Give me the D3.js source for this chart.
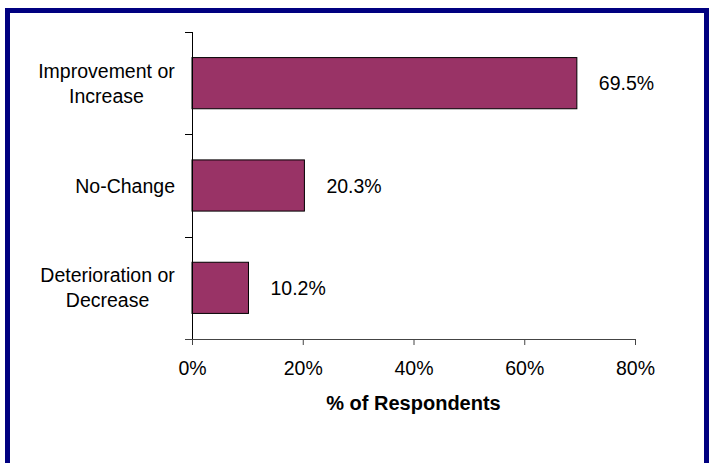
<!DOCTYPE html>
<html><head><meta charset="utf-8">
<script src="https://cdn.jsdelivr.net/npm/d3@7"></script>
<style>body{margin:0;background:#fff}svg{display:block}text{font-family:"Liberation Sans",Arial,sans-serif}</style>
</head><body>
<svg id="c" width="712" height="463"></svg>
<script>
const categories = [["Improvement or","Increase"],["No-Change"],["Deterioration or","Decrease"]];
const values = [69.5, 20.3, 10.2];
const valueLabels = ["69.5%","20.3%","10.2%"];
const xTicks = [0,20,40,60,80];
const xTitle = "% of Respondents";

const svg = d3.select("#c");
svg.append("rect").attr("x",7.5).attr("y",10.5).attr("width",699).attr("height",470)
  .attr("fill","#fff").attr("stroke","#000080").attr("stroke-width",5);

const x0=192,x1=635,yTop=32,yBot=339;
const x = d3.scaleLinear().domain([0,80]).range([x0,x1]);
const y = d3.scaleBand().domain(d3.range(categories.length)).range([yTop,yBot]).paddingInner(0.5).paddingOuter(0.25);
const fs = 19.5;

// bars
svg.selectAll("rect.bar").data(values).enter().append("rect")
  .attr("x",x(0)).attr("y",(d,i)=>y(i)).attr("width",d=>x(d)-x(0)).attr("height",y.bandwidth())
  .attr("fill","#993366").attr("stroke","#000").attr("stroke-width",1);

// x axis
const xa = svg.append("g").attr("transform",`translate(0,${yBot})`)
  .call(d3.axisBottom(x).tickValues(xTicks).tickSize(6).tickSizeOuter(0).tickPadding(16).tickFormat(d=>d+"%"));
xa.select(".domain").remove();
xa.append("line").attr("x1",x0-7).attr("x2",x1).attr("y1",0.5).attr("y2",0.5).attr("stroke","#444");
xa.selectAll(".tick line").attr("stroke","#444");
xa.selectAll("text").attr("font-size",fs).attr("fill","#000").attr("font-family","Liberation Sans, Arial, sans-serif");

// y axis
const step = (yBot-yTop)/categories.length;
const g = svg.append("g");
g.append("line").attr("x1",x0+0.5).attr("x2",x0+0.5).attr("y1",yTop).attr("y2",yBot).attr("stroke","#000");
d3.range(categories.length).forEach(i=>{
  const yy = Math.round(yTop+i*step)+0.5;
  g.append("line").attr("x1",x0-7).attr("x2",x0).attr("y1",yy).attr("y2",yy).attr("stroke","#000");
});

// category labels: block right aligned, lines centered
categories.forEach((lines,i)=>{
  const cy = y(i)+y.bandwidth()/2;
  const t = svg.append("text").attr("font-size",fs).attr("text-anchor","middle");
  const n = lines.length;
  lines.forEach((ln,j)=>{
    t.append("tspan").attr("x",0).attr("y",cy+(j-(n-1)/2)*25+7).text(ln);
  });
  const w = t.node().getBBox().width;
  t.selectAll("tspan").attr("x",175-w/2);
});

// value labels
svg.selectAll("text.val").data(values).enter().append("text")
  .attr("x",d=>x(d)+22).attr("y",(d,i)=>y(i)+y.bandwidth()/2+7)
  .attr("font-size",fs).text((d,i)=>valueLabels[i]);

// x title
svg.append("text").attr("x",(x0+x1)/2).attr("y",410).attr("text-anchor","middle")
  .attr("font-size",20).attr("font-weight","bold").text(xTitle);
</script>
</body></html>
